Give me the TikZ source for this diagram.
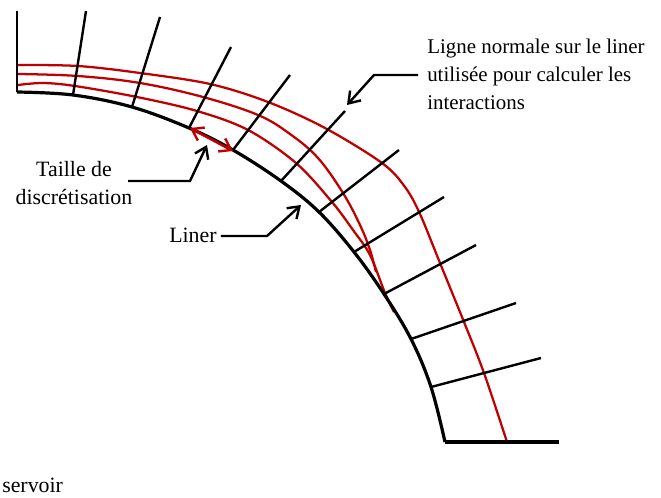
\documentclass[tikz,border=0pt]{standalone}
\usepackage{fontspec}
\setmainfont{Liberation Serif}
\usetikzlibrary{arrows.meta, calc}
\definecolor{linerred}{RGB}{192, 0, 0}
\tikzset{
	lbl/.style={font=\fontsize{16.4}{20.8}\selectfont, inner sep=0pt},
	normline/.style={black, line width=1.8pt},
	redline/.style={linerred, line width=1.7pt},
	callout/.style={black, line width=1.8pt, line join=miter, -{Straight Barb[length=8pt,width=11pt,line width=1.8pt]}}
}
\begin{document}
\begin{tikzpicture}[x=0.75pt,y=-0.75pt]
	\useasboundingbox (0,0) rectangle (661,497);
	\draw[redline] plot[smooth,tension=0.55] coordinates {(18,65) (78,66) (140,73) (210,84) (268,102) (325,128) (382,163) (405,187) (420,214) (440,263) (464,322) (484,373) (507,442)};
	\draw[redline] plot[smooth,tension=0.6] coordinates {(18,74) (78,76) (140,83) (203,97) (258,115) (290,134) (318,158) (343,193) (360,225) (370,250) (376,272)};
	\draw[redline] plot[smooth,tension=0.55] coordinates {(18,85) (43,83) (75,86) (137,97) (197,111) (248,130) (296,163) (332,202) (353,230) (370,255) (385,293) (394,312)};
	\foreach \xa/\ya/\xb/\yb in {17/92/17/11, 73/95/86/11, 132/107/160/17, 189/128/231/47, 233/150/290/75, 281/181/345/111, 319/212/399/150, 354/252/444/197, 384/294/476/245, 411/339/516/303, 431/387/541/358}
		{\draw[normline] (\xa,\ya)--(\xb,\yb);}
	\draw[black,line width=2.4pt,line join=miter] (445,442)--(559,442);
	\draw[black,line width=2.4pt] plot[smooth,tension=0.6] coordinates {(17,92) (73,95) (132,107) (189,128) (233,150) (281,181) (319,212) (354,252) (384,294) (411,339) (431,387) (445,442)};
	\draw[linerred,line width=1.9pt,{Straight Barb[length=8pt,width=11pt,line width=1.8pt]}-{Straight Barb[length=8pt,width=11pt,line width=1.8pt]}] (190,128)--(233,151);
	\node[lbl,anchor=north west,align=left,font=\fontsize{15.7}{20.8}\selectfont] (ligne) at (427,39) {Ligne normale sur le liner\\utilisée pour calculer les\\interactions};
	\node[lbl,align=center,anchor=north] (taille) at (74,161) {Taille de\\discrétisation};
	\node[lbl,anchor=base west,inner xsep=3pt] (liner) at (165,242) {Liner};
	\node[lbl,anchor=base west] (servoir) at (2,492) {servoir};
	\coordinate (tailleA) at (128,181);
	\coordinate (tailleB) at (190,181);
	\coordinate (tailleC) at (207,145);
	\coordinate (linerB) at (267,236);
	\coordinate (linerC) at (301,205);
	\coordinate (ligneA) at (418,75);
	\coordinate (ligneB) at (374,75);
	\coordinate (ligneC) at (347,105);
	\draw[callout] (tailleA)--(tailleB)--(tailleC);
	\draw[callout] (liner.east |- linerB)--(linerB)--(linerC);
	\draw[callout] (ligneA)--(ligneB)--(ligneC);
\end{tikzpicture}
\end{document}
